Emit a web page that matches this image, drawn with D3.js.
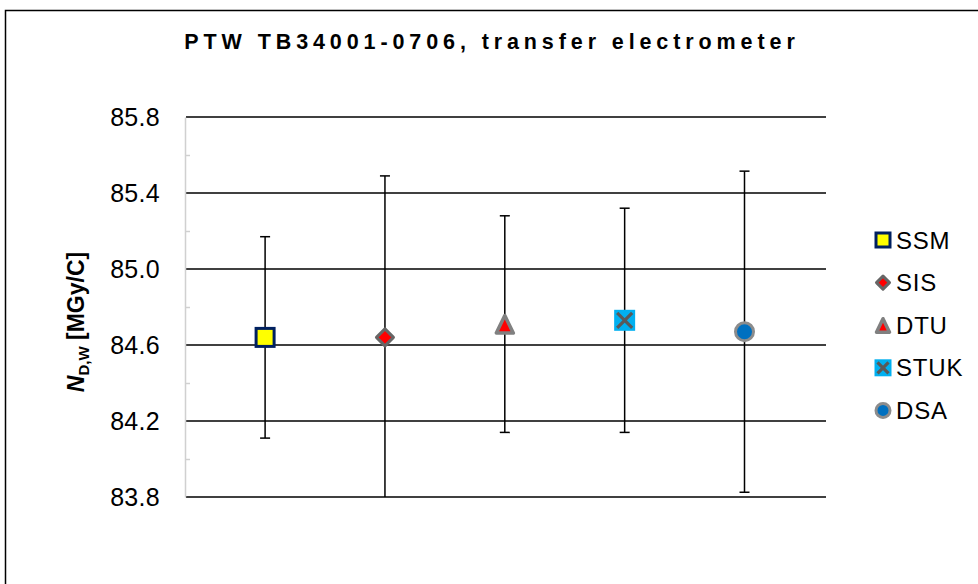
<!DOCTYPE html>
<html>
<head>
<meta charset="utf-8">
<script src="https://cdn.jsdelivr.net/npm/d3@7"></script>
<style>
  body { margin: 0; background: #fff; }
  svg { display: block; font-family: "Liberation Sans", Arial, sans-serif; }
</style>
</head>
<body>
<div id="chart"></div>
<script>
const labs   = ['SSM', 'SIS', 'DTU', 'STUK', 'DSA'];
const xpos   = [1, 2, 3, 4, 5];
const values = [84.64, 84.64, 84.71, 84.73, 84.67];
const errs   = [0.53, 0.85, 0.57, 0.59, 0.845];
const yTicks = [83.8, 84.2, 84.6, 85.0, 85.4, 85.8];

const width  = 978;
const height = 584;
const pad = {l: 186, r: 152, t: 117, b: 87};

const svg = d3.select('#chart').append('svg')
  .attr('width', width)
  .attr('height', height);

// outer frame (cropped at right and bottom)
svg.append('path')
  .attr('d', `M5.5,${height + 2}V10.5H${width + 2}`)
  .attr('fill', 'none')
  .attr('stroke', '#000')
  .attr('stroke-width', 1.5);

svg.append('text')
  .attr('x', 492).attr('y', 49)
  .attr('text-anchor', 'middle')
  .attr('font-size', 21.5).attr('font-weight', 'bold')
  .attr('letter-spacing', 4.9)
  .text('PTW TB34001-0706, transfer electrometer');

let x = d3.scaleLinear()
  .domain([0.34, 5.68])
  .range([pad.l, width - pad.r]);
let y = d3.scaleLinear()
  .domain([83.8, 85.8])
  .range([height - pad.b, pad.t]);

// gridlines
svg.append('g')
  .selectAll('line')
  .data(yTicks)
  .join('line')
  .attr('x1', pad.l).attr('x2', width - pad.r)
  .attr('y1', d => y(d)).attr('y2', d => y(d))
  .attr('stroke', '#000').attr('stroke-width', 1.5);

// y axis: gray line with inner minor ticks
let axisY = d3.axisLeft(y)
  .tickValues(yTicks)
  .tickFormat(d3.format('.1f'))
  .tickSize(0)
  .tickPadding(25);
let gy = svg.append('g')
  .attr('transform', `translate(${pad.l - 1}, 0)`)
  .call(axisY);
gy.select('.domain').attr('stroke', '#d0d0d0').attr('stroke-width', 1.5);
gy.selectAll('text')
  .attr('font-size', 25)
  .attr('letter-spacing', 0.3)
  .attr('font-family', '"Liberation Sans", Arial, sans-serif')
  .attr('fill', '#000');

let minor = d3.axisRight(y).tickValues([84.0, 84.4, 84.8, 85.2, 85.6]).tickSize(5).tickFormat('');
let gm = svg.append('g')
  .attr('transform', `translate(${pad.l - 1}, 0)`)
  .call(minor);
gm.select('.domain').remove();
gm.selectAll('line').attr('stroke', '#d0d0d0').attr('stroke-width', 1.5);

// y axis title
let yt = svg.append('text')
  .attr('transform', 'translate(84, 322) rotate(-90)')
  .attr('text-anchor', 'middle')
  .attr('font-size', 23).attr('font-weight', 'bold');
yt.append('tspan').attr('font-style', 'italic').text('N');
yt.append('tspan').attr('font-size', 15).attr('dy', 5).text('D,W');
yt.append('tspan').attr('dy', -5).text(' [MGy/C]');

// error bars
const lo = y.domain()[0];
let eb = svg.append('g').attr('stroke', '#000').attr('stroke-width', 1.5);
xpos.forEach((xv, i) => {
  let top = values[i] + errs[i], bot = Math.max(values[i] - errs[i], lo);
  eb.append('line')
    .attr('x1', x(xv)).attr('x2', x(xv))
    .attr('y1', y(top)).attr('y2', y(bot));
  eb.append('line')
    .attr('x1', x(xv) - 5).attr('x2', x(xv) + 5)
    .attr('y1', y(top)).attr('y2', y(top));
  if (values[i] - errs[i] >= lo)
    eb.append('line')
      .attr('x1', x(xv) - 5).attr('x2', x(xv) + 5)
      .attr('y1', y(bot)).attr('y2', y(bot));
});

function marker(g, k, s) {
  // s = outer size in px
  const h = s / 2;
  if (k == 0) {
    g.append('rect')
      .attr('x', -h + 1.5).attr('y', -h + 1.5)
      .attr('width', s - 3).attr('height', s - 3)
      .attr('fill', '#ffff00').attr('stroke', '#002060').attr('stroke-width', 3);
  } else if (k == 1) {
    g.append('path')
      .attr('d', `M0,${-h + 2}L${h - 2},0L0,${h - 2}L${-h + 2},0Z`)
      .attr('fill', '#ff0000').attr('stroke', '#666666').attr('stroke-width', 3)
      .attr('stroke-linejoin', 'round');
  } else if (k == 2) {
    g.append('path')
      .attr('d', `M0,${-h + 2}L${h - 2},${h - 1.5}L${-h + 2},${h - 1.5}Z`)
      .attr('fill', '#ff0000').attr('stroke', '#808080').attr('stroke-width', 3.5)
      .attr('stroke-linejoin', 'round');
  } else if (k == 3) {
    g.append('rect')
      .attr('x', -h).attr('y', -h).attr('width', s).attr('height', s)
      .attr('fill', '#00b0f0');
    g.append('path')
      .attr('d', `M${-h + 3},${-h + 3}L${h - 3},${h - 3}M${h - 3},${-h + 3}L${-h + 3},${h - 3}`)
      .attr('stroke', '#595959').attr('stroke-width', 3.2);
  } else {
    g.append('circle')
      .attr('r', h - 1.5)
      .attr('fill', '#0070c0').attr('stroke', '#8c8c8c').attr('stroke-width', 3);
  }
}

// points
xpos.forEach((xv, i) => {
  let g = svg.append('g').attr('transform', `translate(${x(xv)}, ${y(values[i])})`);
  marker(g, i, 21);
});

// legend
labs.forEach((lab, i) => {
  let ly = 240 + i * 42.6;
  let g = svg.append('g').attr('transform', `translate(883, ${ly})`);
  marker(g, i, 17);
  svg.append('text')
    .attr('x', 896).attr('y', ly + 8.5)
    .attr('font-size', 24)
    .attr('letter-spacing', 0.8)
    .text(lab);
});
</script>
</body>
</html>
